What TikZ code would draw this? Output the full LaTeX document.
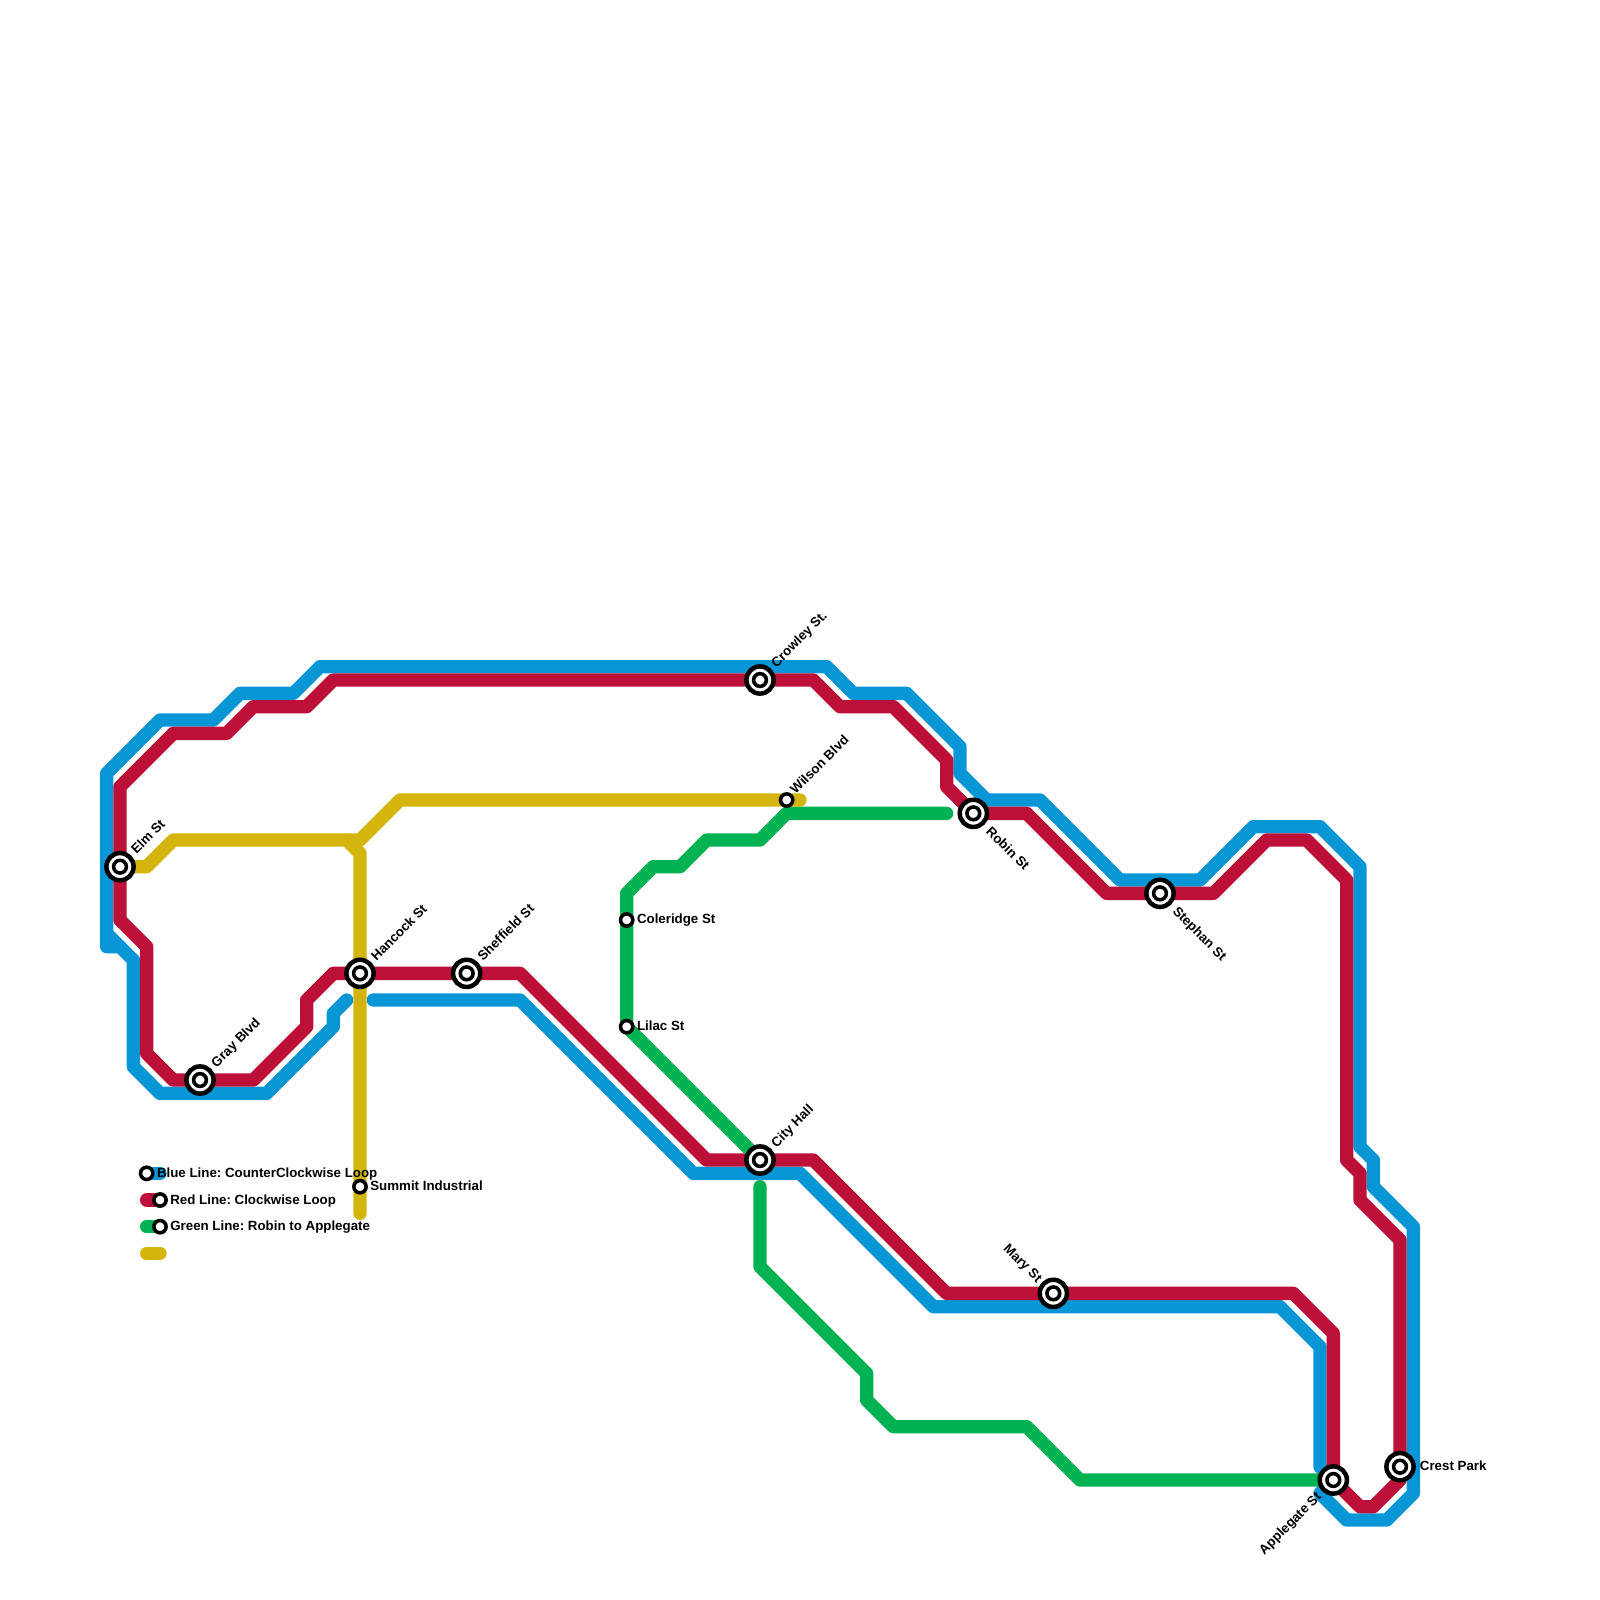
\documentclass[tikz,border=0pt]{standalone}
\usepackage{xcolor}
\usepackage{fontspec}
\setmainfont{Liberation Sans}
\frenchspacing
\usetikzlibrary{calc}
\definecolor{linhaazul}{HTML}{0896D7}
\definecolor{linhavermelha}{HTML}{BD1038}
\definecolor{linhaverde}{HTML}{00B251}
\definecolor{linhaamarela}{HTML}{D4B50E}

\begin{document}
\begin{tikzpicture}[
    x=0.25cm, y=-0.25cm,
    rota/.style={line width=3.557pt, line cap=round, line join=round},
    azul/.style={rota, linhaazul},
    vermelha/.style={rota, linhavermelha},
    verde/.style={rota, linhaverde},
    amarela/.style={rota, linhaamarela},
    hub/.style={circle, draw=black, fill=white, line width=1.2pt, minimum size=0.255cm, inner sep=0pt,
                path picture={\draw[black, line width=0.95pt] (path picture bounding box.center) circle (0.06cm);}},
    halt/.style={circle, draw=black, fill=white, line width=0.95pt, minimum size=0.115cm, inner sep=0pt},
    rotulo/.style={inner sep=0pt, font=\fontsize{3.55}{4}\selectfont\bfseries, text=black},
    ne/.style={rotulo, rotate=45, anchor=base west},
    se/.style={rotulo, rotate=-45, anchor=base west},
    lado/.style={rotulo, anchor=base west}
]
    \useasboundingbox (0,0) rectangle (60,60);

    % stations
    \coordinate (elm) at (4.5,32.5);
    \coordinate (gray) at (7.5,40.5);
    \coordinate (hancock) at (13.5,36.5);
    \coordinate (sheffield) at (17.5,36.5);
    \coordinate (summit) at (13.5,44.5);
    \coordinate (coleridge) at (23.5,34.5);
    \coordinate (lilac) at (23.5,38.5);
    \coordinate (crowley) at (28.5,25.5);
    \coordinate (wilson) at (29.5,30);
    \coordinate (cityhall) at (28.5,43.5);
    \coordinate (robin) at (36.5,30.5);
    \coordinate (mary) at (39.5,48.5);
    \coordinate (stephan) at (43.5,33.5);
    \coordinate (applegate) at (50,55.5);
    \coordinate (crest) at (52.5,55);

    % blue line
    \draw[azul] (14,37.5) -- (19.5,37.5) -- (26,44) -- (30,44) -- (35,49) -- (48,49) -- (49.5,50.5) -- (49.5,55)
        -- (50,55.5) -- (49.5,56)
        -- (50.5,57) -- (52,57) -- (53,56) -- (53,46) -- (51.5,44.5) -- (51.5,43.5) -- (51,43) -- (51,32.5)
        -- (49.5,31) -- (47,31) -- (45,33) -- (42,33) -- (39,30) -- (37,30) -- (36,29) -- (36,28) -- (34,26)
        -- (32,26) -- (31,25) -- (12,25) -- (11,26) -- (9,26) -- (8,27) -- (6,27) -- (4,29) -- (4,35.5)
        -- (4.5,35.5) -- (5,36) -- (5,40) -- (6,41) -- (10,41) -- (12.5,38.5) -- (12.5,38) -- (13,37.5);
    \draw[azul] (4,35) -- (4.5,35.5);

    % red line
    \draw[vermelha] (elm) -- (4.5,29.5) -- (6.5,27.5) -- (8.5,27.5) -- (9.5,26.5) -- (11.5,26.5) -- (12.5,25.5)
        -- (crowley) -- (30.5,25.5) -- (31.5,26.5) -- (33.5,26.5) -- (35.5,28.5) -- (35.5,29.5) -- (robin)
        -- (38.5,30.5) -- (41.5,33.5) -- (stephan) -- (45.5,33.5) -- (47.5,31.5) -- (49,31.5) -- (50.5,33)
        -- (50.5,43.5) -- (51,44) -- (51,45) -- (52.5,46.5) -- (crest) -- (52.5,55.5) -- (51.5,56.5) -- (51,56.5)
        -- (applegate) -- (50,50) -- (48.5,48.5) -- (mary) -- (35.5,48.5) -- (30.5,43.5) -- (cityhall) -- (26.5,43.5)
        -- (19.5,36.5) -- (sheffield) -- (hancock) -- (12.5,36.5) -- (11.5,37.5) -- (11.5,38.5) -- (9.5,40.5) -- (gray)
        -- (6.5,40.5) -- (5.5,39.5) -- (5.5,35.5) -- (4.5,34.5) -- cycle;

    % green line
    \draw[verde] (35.5,30.5) -- (29.5,30.5) -- (28.5,31.5) -- (26.5,31.5) -- (25.5,32.5) -- (24.5,32.5) -- (23.5,33.5)
        -- (coleridge) -- (lilac) -- (cityhall);
    \draw[verde] (28.5,44.5) -- (28.5,47.5) -- (32.5,51.5) -- (32.5,52.5) -- (33.5,53.5) -- (38.5,53.5) -- (40.5,55.5)
        -- (applegate);

    % yellow line
    \draw[amarela] (elm) -- (5.5,32.5) -- (6.5,31.5) -- (13.5,31.5) -- (15,30) -- (wilson) -- (30,30);
    \draw[amarela] (13,31.5) -- (13.5,32) -- (hancock) -- (summit) -- (13.5,45.5);

    % legend bars
    \draw[azul] (5.5,44) -- (6,44);
    \draw[vermelha] (5.5,45) -- (6,45);
    \draw[verde] (5.5,46) -- (6,46);
    \draw[amarela] (5.5,47) -- (6,47);

    \node[hub] (elmhub) at (elm) {};
    \node[hub] (grayhub) at (gray) {};
    \node[hub] (hancockhub) at (hancock) {};
    \node[hub] (sheffieldhub) at (sheffield) {};
    \node[hub] (crowleyhub) at (crowley) {};
    \node[hub] (cityhallhub) at (cityhall) {};
    \node[hub] (robinhub) at (robin) {};
    \node[hub] (maryhub) at (mary) {};
    \node[hub] (stephanhub) at (stephan) {};
    \node[hub] (applegatehub) at (applegate) {};
    \node[hub] (cresthub) at (crest) {};
    \node[halt] (summithalt) at (summit) {};
    \node[halt] (coleridgehalt) at (coleridge) {};
    \node[halt] (lilachalt) at (lilac) {};
    \node[halt] (wilsonhalt) at (wilson) {};
    \node[halt] (bluehalt) at (5.5,44) {};
    \node[halt] (redhalt) at (6,45) {};
    \node[halt] (greenhalt) at (6,46) {};

    \node[ne] (elmlabel) at ($(elm)+(0.6,-0.43)$) {Elm St};
    \node[ne] (graylabel) at ($(gray)+(0.6,-0.43)$) {Gray Blvd};
    \node[ne] (hancocklabel) at ($(hancock)+(0.6,-0.43)$) {Hancock St};
    \node[ne] (sheffieldlabel) at ($(sheffield)+(0.6,-0.43)$) {Sheffield St};
    \node[ne] (crowleylabel) at ($(crowley)+(0.6,-0.43)$) {Crowley St.};
    \node[ne] (cityhalllabel) at ($(cityhall)+(0.6,-0.43)$) {City Hall};
    \node[ne] (wilsonlabel) at ($(wilson)+(0.32,-0.18)$) {Wilson Blvd};
    \node[se] (robinlabel) at ($(robin)+(0.43,0.69)$) {Robin St};
    \node[se] (stephanlabel) at ($(stephan)+(0.43,0.69)$) {Stephan St};
    \node[rotulo, rotate=-45, anchor=base east] (marylabel) at ($(mary)+(-0.6,-0.36)$) {Mary St};
    \node[rotulo, rotate=45, anchor=base east] (applegatelabel) at ($(applegate)+(-0.41,0.64)$) {Applegate St};
    \node[lado] (crestlabel) at ($(crest)+(0.72,0.13)$) {Crest Park};
    \node[lado] (coleridgelabel) at ($(coleridge)+(0.36,0.14)$) {Coleridge St};
    \node[lado] (lilaclabel) at ($(lilac)+(0.36,0.14)$) {Lilac St};
    \node[lado] (summitlabel) at ($(summit)+(0.36,0.14)$) {Summit Industrial};
    \node[lado] (bluelabel) at ($(bluehalt)+(0.36,0.15)$) {Blue Line: CounterClockwise Loop};
    \node[lado] (redlabel) at ($(redhalt)+(0.36,0.15)$) {Red Line: Clockwise Loop};
    \node[lado] (greenlabel) at ($(greenhalt)+(0.36,0.15)$) {Green Line: Robin to Applegate};
\end{tikzpicture}
\end{document}
